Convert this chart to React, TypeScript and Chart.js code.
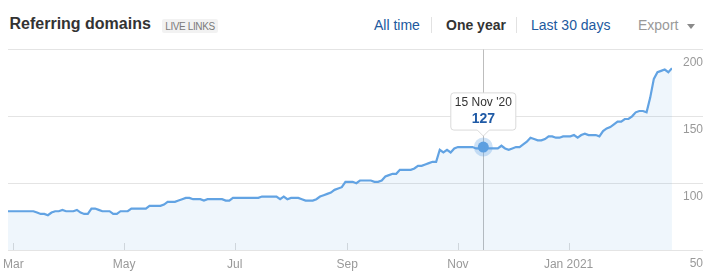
import React, { useEffect, useRef } from 'react';
import { Chart, registerables } from 'chart.js';

Chart.register(...registerables);

// ---- data (x = days relative to 1 Mar 2020, one value every STEP_DAYS days) ----
const FIRST_DAY = -3;
const STEP_DAYS = 2;
const domains = [
  79, 79, 79, 79, 79, 79, 79, 79,
  78, 77, 77, 76, 78, 79, 79, 80,
  79, 79, 79, 80, 78, 77, 77, 81,
  81, 80, 79, 79, 79, 77, 77, 79,
  79, 79, 81, 81, 81, 81, 81, 83,
  83, 83, 83, 84, 86, 86, 86, 87,
  88, 89, 89, 88, 88, 88, 87, 88,
  88, 88, 88, 88, 87, 87, 89, 89,
  89, 89, 89, 89, 89, 89, 90, 90,
  90, 90, 90, 88, 90, 88, 89, 89,
  89, 88, 87, 87, 87, 88, 90, 91,
  92, 93, 95, 96, 97, 101, 101, 101,
  100, 102, 102, 102, 102, 101, 101, 102,
  105, 106, 107, 107, 110, 110, 110, 110,
  111, 113, 113, 114, 115, 116, 116, 125,
  123, 125, 123, 126, 127, 127, 127, 127,
  127, 126, 126, 127, 126, 126, 126, 126,
  128, 126, 125, 126, 127, 127, 129, 131,
  134, 133, 132, 132, 133, 135, 135, 134,
  134, 135, 135, 135, 136, 134, 136, 137,
  136, 136, 136, 135, 139, 141, 142, 144,
  146, 146, 148, 148, 150, 153, 154, 154,
  153, 164, 178, 183, 184, 185, 183, 186,
];
const X_MIN = -3;
const X_MAX = 363;
const monthTickDays = [0, 61, 122, 184, 245, 306];
const monthTickLabels = ['Mar', 'May', 'Jul', 'Sep', 'Nov', 'Jan 2021'];
const yTickValues = [50, 100, 150, 200];
const highlightIndex = 131; // 15 Nov '20
const rangeLabels = ['All time', 'One year', 'Last 30 days'];
const monthNames = ['Jan', 'Feb', 'Mar', 'Apr', 'May', 'Jun', 'Jul', 'Aug', 'Sep', 'Oct', 'Nov', 'Dec'];

const FONT = "'Liberation Sans', Arial, Helvetica, sans-serif";
const LINE = '#62a3e3';
const LINK = '#21599e';

function formatDay(day: number): string {
  const d = new Date(2020, 2, 1 + Math.round(day));
  return `${d.getDate()} ${monthNames[d.getMonth()]} '${String(d.getFullYear()).slice(2)}`;
}

const crosshair = {
  id: 'crosshair',
  beforeDatasetsDraw(chart: any) {
    const { ctx, chartArea, scales } = chart;
    ctx.save();
    ctx.strokeStyle = '#dcdcdc';
    ctx.lineWidth = 1;
    scales.x.ticks.forEach((t: any) => {
      const x = Math.round(scales.x.getPixelForValue(t.value)) + 0.5;
      ctx.beginPath();
      ctx.moveTo(x, chartArea.bottom - 7);
      ctx.lineTo(x, chartArea.bottom);
      ctx.stroke();
    });
    const act = chart.getActiveElements();
    if (act.length) {
      const x = Math.round(act[0].element.x) + 0.5;
      ctx.strokeStyle = '#bdbdbd';
      ctx.beginPath();
      ctx.moveTo(x, chartArea.top);
      ctx.lineTo(x, chartArea.bottom);
      ctx.stroke();
    }
    ctx.restore();
  },
};

function DomainsChart() {
  const ref = useRef<HTMLCanvasElement | null>(null);
  useEffect(() => {
    if (!ref.current) return;
    Chart.defaults.font.family = FONT;
    const points = domains.map((v, i) => ({ x: FIRST_DAY + i * STEP_DAYS, y: v }));
    const chart = new Chart(ref.current, {
      type: 'line',
      data: {
        datasets: [
          {
            data: points,
            borderColor: LINE,
            borderWidth: 2.2,
            backgroundColor: 'rgba(98,163,227,0.1)',
            fill: 'start',
            tension: 0,
            pointRadius: 0,
            pointHoverRadius: 5.5,
            pointHoverBackgroundColor: '#5d9fe0',
            pointHoverBorderColor: 'rgba(93,159,224,0.3)',
            pointHoverBorderWidth: 8,
          },
        ],
      },
      plugins: [crosshair],
      options: {
        responsive: false,
        animation: false,
        events: [],
        layout: { autoPadding: false, padding: { left: 8, right: 1, top: 9.5, bottom: 4.6 } },
        plugins: {
          legend: { display: false },
          tooltip: {
            enabled: true,
            backgroundColor: '#ffffff',
            borderColor: '#dadada',
            borderWidth: 1,
            cornerRadius: 3,
            caretSize: 6,
            caretPadding: 11,
            xAlign: 'center',
            yAlign: 'bottom',
            displayColors: false,
            titleColor: '#333333',
            titleFont: { family: FONT, size: 12, weight: 'normal' },
            titleAlign: 'center',
            titleMarginBottom: 0,
            bodyColor: '#1f5aa6',
            bodyFont: { family: FONT, size: 14, weight: 'bold' },
            bodyAlign: 'center',
            padding: { top: 3, bottom: 3, left: 4, right: 4 },
            callbacks: {
              title: (items: any[]) => formatDay(items[0].parsed.x),
              label: (item: any) => String(item.parsed.y),
            },
          },
        },
        scales: {
          x: {
            type: 'linear',
            min: X_MIN,
            max: X_MAX,
            afterBuildTicks: (scale: any) => {
              scale.ticks = monthTickDays.map((v) => ({ value: v }));
            },
            grid: { display: false, drawTicks: true, tickLength: 7 },
            border: { display: false },
            ticks: {
              autoSkip: false,
              maxRotation: 0,
              padding: 0,
              color: '#999999',
              font: { family: FONT, size: 12 },
              callback: (v: any) => monthTickLabels[monthTickDays.indexOf(Number(v))] ?? '',
            },
          },
          y: {
            position: 'right',
            min: 50,
            max: 200,
            afterBuildTicks: (scale: any) => {
              scale.ticks = yTickValues.map((v) => ({ value: v }));
            },
            grid: { color: '#e4e4e4', lineWidth: 1, drawTicks: true, tickLength: 31 },
            border: { display: false },
            ticks: {
              padding: -10,
              crossAlign: 'far',
              labelOffset: 13.5,
              color: '#999999',
              font: { family: FONT, size: 12 },
            },
          },
        },
      },
    } as any);
    const active = [{ datasetIndex: 0, index: highlightIndex }];
    chart.setActiveElements(active);
    chart.tooltip!.setActiveElements(active, { x: 0, y: 0 });
    chart.update();
    return () => chart.destroy();
  }, []);
  return <canvas ref={ref} width={704} height={236} style={{ position: 'absolute', left: 0, top: 40 }} />;
}

export default function App() {
  const navTop = 18.15;
  return (
    <div
      style={{
        position: 'fixed',
        left: 0,
        top: 0,
        width: 720,
        height: 276,
        overflow: 'hidden',
        background: '#ffffff',
        fontFamily: FONT,
      }}
    >
      <div style={{ position: 'absolute', left: 9.5, top: 15.5, fontSize: 16, lineHeight: '16px', fontWeight: 'bold', color: '#333', whiteSpace: 'nowrap' }}>
        Referring domains
      </div>
      <div
        style={{
          position: 'absolute',
          left: 162,
          top: 19,
          width: 56,
          height: 14,
          background: '#f2f2f2',
          borderRadius: 2,
          color: '#7a7a7a',
          fontSize: 10,
          letterSpacing: '-0.4px',
          lineHeight: '15px',
          textAlign: 'center',
          whiteSpace: 'nowrap',
        }}
      >
        LIVE LINKS
      </div>
      <div style={{ position: 'absolute', left: 374, top: navTop, fontSize: 14, lineHeight: '14px', color: LINK, whiteSpace: 'nowrap' }}>{rangeLabels[0]}</div>
      <div style={{ position: 'absolute', left: 431, top: 17, width: 1, height: 16, background: '#e2e2e2' }} />
      <div style={{ position: 'absolute', left: 446, top: navTop, fontSize: 14, lineHeight: '14px', fontWeight: 'bold', color: '#333', whiteSpace: 'nowrap' }}>{rangeLabels[1]}</div>
      <div style={{ position: 'absolute', left: 516, top: 17, width: 1, height: 16, background: '#e2e2e2' }} />
      <div style={{ position: 'absolute', left: 531, top: navTop, fontSize: 14, lineHeight: '14px', color: LINK, whiteSpace: 'nowrap' }}>{rangeLabels[2]}</div>
      <div style={{ position: 'absolute', left: 638, top: navTop, fontSize: 14, lineHeight: '14px', color: '#999', whiteSpace: 'nowrap' }}>Export</div>
      <div
        style={{
          position: 'absolute',
          left: 687,
          top: 24,
          width: 0,
          height: 0,
          borderLeft: '4px solid transparent',
          borderRight: '4px solid transparent',
          borderTop: '5px solid #8a8a8a',
        }}
      />
      <DomainsChart />
    </div>
  );
}
